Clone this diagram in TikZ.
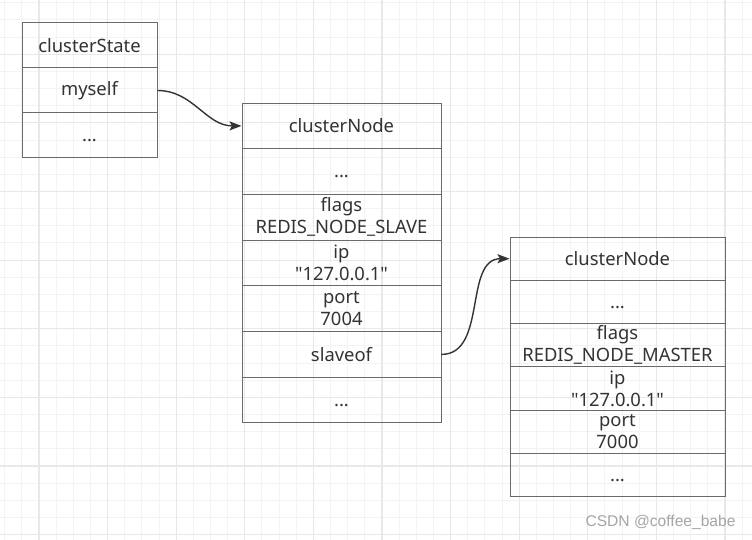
\documentclass[tikz,border=0pt]{standalone}
\usepackage{fontspec}
\setmainfont{Noto Sans}[Ligatures=TeXOff]
\newfontfamily\markfont{Liberation Sans}
\usetikzlibrary{arrows.meta}
\definecolor{boxline}{HTML}{6A6A6A}
\definecolor{textgray}{HTML}{333333}
\definecolor{gridminor}{HTML}{F3F3F3}
\definecolor{gridmajor}{HTML}{E8E8E8}
\definecolor{markgray}{HTML}{A6A6A6}

\begin{document}
\begin{tikzpicture}[x=1pt,y=-1pt,
  >={Stealth[length=12pt,width=9pt,inset=2.5pt]},
  cell/.style={draw=boxline,line width=1pt,inner sep=0pt,align=center,text=textgray,
    font=\fontsize{18.4}{22}\selectfont},
  statecell/.style={cell,minimum width=135pt,minimum height=45pt},
  slavecell/.style={cell,minimum width=199pt,minimum height=45.7pt},
  mastercell/.style={cell,minimum width=215pt,minimum height=43.3pt},
  dotrow/.style={text height=14pt,text depth=2pt},
  link/.style={->,draw=textgray,line width=1.4pt}]
\useasboundingbox (0,0) rectangle (752,540);
\fill [white] (0,0) rectangle (752,540);

\foreach \k in {0,...,43}
  \draw [gridminor,line width=1pt] ({4.7+17.15*\k},0) -- ({4.7+17.15*\k},540);
\foreach \k in {0,...,31}
  \draw [gridminor,line width=1pt] (0,{2.85+17.15*\k}) -- (752,{2.85+17.15*\k});
\foreach \k in {0,...,10}
  \draw [gridmajor,line width=1.2pt] ({39+68.6*\k},0) -- ({39+68.6*\k},540);
\foreach \k in {0,...,7}
  \draw [gridmajor,line width=1.2pt] (0,{54.3+68.6*\k}) -- (752,{54.3+68.6*\k});

\node [statecell] (st-title) at (89.5,45.5) {clusterState};
\node [statecell] (st-myself) at (89.5,90.5) {myself};
\node [statecell,dotrow] (st-dots) at (89.5,135.5) {...};

\node [slavecell] (sl-title) at (341.5,125.9) {clusterNode};
\node [slavecell,dotrow] (sl-dots) at (341.5,171.6) {...};
\node [slavecell] (sl-flags) at (341.5,217.3) {flags\\REDIS\_NODE\_SLAVE};
\node [slavecell] (sl-ip) at (341.5,263.0) {ip\\"127.0.0.1"};
\node [slavecell] (sl-port) at (341.5,308.7) {port\\7004};
\node [slavecell] (sl-slaveof) at (341.5,354.4) {slaveof};
\node [slavecell,dotrow] (sl-end) at (341.5,400.1) {...};

\node [mastercell] (ms-title) at (617.5,258.7) {clusterNode};
\node [mastercell,dotrow] (ms-dots) at (617.5,302.0) {...};
\node [mastercell] (ms-flags) at (617.5,345.3) {flags\\REDIS\_NODE\_MASTER};
\node [mastercell] (ms-ip) at (617.5,388.6) {ip\\"127.0.0.1"};
\node [mastercell] (ms-port) at (617.5,431.9) {port\\7000};
\node [mastercell,dotrow] (ms-end) at (617.5,475.2) {...};

\draw [link] (st-myself.east) to[out=0,in=180] (sl-title.west);
\draw [link] (sl-slaveof.east) to[out=0,in=180] (ms-title.west);

\node [text=markgray,font=\markfont\fontsize{15.6}{18}\selectfont] (mark) at (660.5,522) {CSDN @coffee\_babe};
\end{tikzpicture}
\end{document}
